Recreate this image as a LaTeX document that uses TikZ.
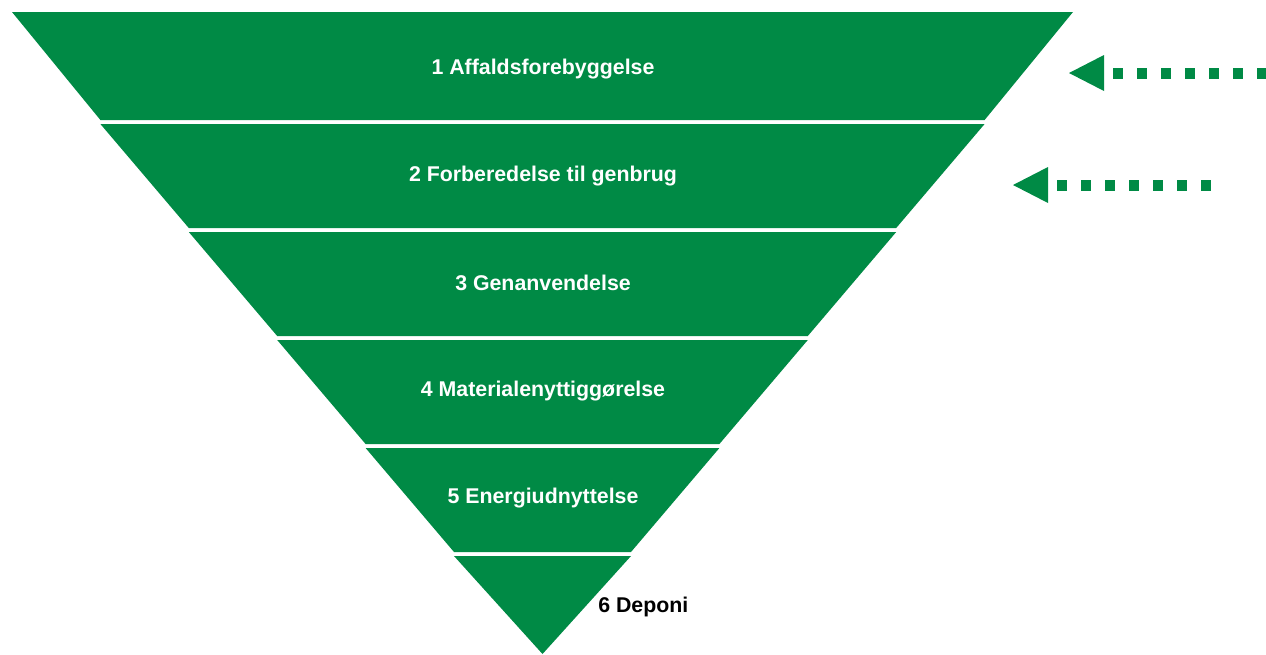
\documentclass[tikz,border=0pt]{standalone}
\usepackage{fontspec}
\setmainfont{Liberation Sans}
\usepackage{tikz}
\usepackage{xcolor}
\definecolor{hgreen}{RGB}{0,138,69}
\usetikzlibrary{positioning, calc, arrows.meta}
\tikzstyle{Level} = [
font=\fontsize{16}{19}\selectfont\bfseries,
text=white,
inner sep=0pt]
\tikzstyle{Band} = [
fill=hgreen]
\tikzstyle{DashArrow} = [
hgreen,
line width=8.25pt,
dash pattern=on 7.5pt off 10.5pt,
dash phase=11.25pt,
{Triangle[length=26.25pt, width=27pt, line width=0pt]}-]

\begin{document}
\begin{tikzpicture}[x=0.75pt, y=-0.75pt]
    \useasboundingbox (0,0) rectangle (1266,654);

    % the hierarchy
    \fill[Band] (12,12) -- (1073,12) -- (984.6,120) -- (100.4,120) -- cycle;
    \fill[Band] (100.4,124) -- (984.6,124) -- (896.2,228) -- (188.8,228) -- cycle;
    \fill[Band] (188.8,232) -- (896.2,232) -- (807.8,336) -- (277.2,336) -- cycle;
    \fill[Band] (277.2,340) -- (807.8,340) -- (719.4,444) -- (365.6,444) -- cycle;
    \fill[Band] (365.6,448) -- (719.4,448) -- (631,552) -- (454,552) -- cycle;
    \fill[Band] (454,556) -- (631,556) -- (542.5,654) -- cycle;

    \node[Level] (1) at (543,69) {1 Affaldsforebyggelse};
    \node[Level] (2) at (543,176) {2 Forberedelse til genbrug};
    \node[Level] (3) at (543,283) {3 Genanvendelse};
    \node[Level] (4) at (543,391) {4 Materialenyttiggørelse};
    \node[Level] (5) at (543,498) {5 Energiudnyttelse};
    \node[Level, text=black, anchor=west] (6) at (598,607) {6 Deponi};

    % arrows
    \coordinate (tip1) at (1069,73);
    \coordinate (end1) at (1266,73);
    \coordinate (tip2) at (1013,185);
    \coordinate (end2) at (1212,185);
    \draw[DashArrow] (tip1) -- (end1);
    \draw[DashArrow] (tip2) -- (end2);
\end{tikzpicture}
\end{document}
